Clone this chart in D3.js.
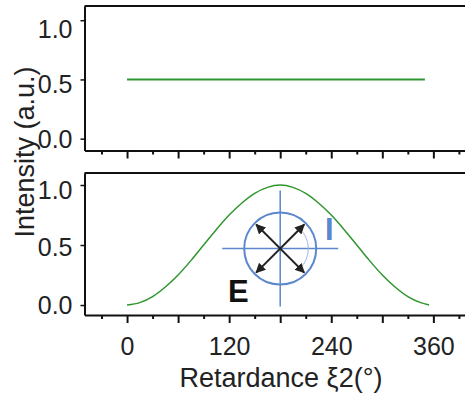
<!DOCTYPE html>
<html>
<head>
<meta charset="utf-8">
<script src="https://cdn.jsdelivr.net/npm/d3@7"></script>
<style>
  body { margin: 0; background: #fff; }
  text { font-family: "Liberation Sans", Arial, sans-serif; fill: #222; }
</style>
</head>
<body>
<script>
// data
var flatAngle = [0, 350];
var flatIntensity = [0.5, 0.5];

var retardance = [0, 15, 30, 45, 60, 75, 90, 105, 120, 135, 150, 165, 180,
                  195, 210, 225, 240, 255, 270, 285, 300, 315, 330, 345, 355];
var intensity = [0.00, 0.02, 0.07, 0.15, 0.25, 0.37, 0.50, 0.63, 0.75, 0.85, 0.93, 0.98, 1.00,
                 0.98, 0.93, 0.85, 0.75, 0.63, 0.50, 0.37, 0.25, 0.15, 0.07, 0.02, 0.00];

var xTickLabels = [0, 120, 240, 360];
var yTickLabels = [0.0, 0.5, 1.0];

var width = 465, height = 400;

var svg = d3.select("body")
  .append("svg")
    .attr("width", width)
    .attr("height", height);

// shared x scale (plot runs off the right edge of the picture)
var x = d3.scaleLinear()
  .domain([-50, 400])
  .range([84.5, 467.4]);

// two stacked panels
var yTop = d3.scaleLinear().domain([-0.1, 1.12]).range([150.5, 6]);
var yBot = d3.scaleLinear().domain([-0.083, 1.1]).range([315, 173]);

var green = "#2e962e";
var blue = "#5b87cc";

// in the original the y labels sit a little below their ticks near the top
function drawPanel(y, showLabels, labelShift) {
  var g = svg.append("g");

  // top border of the frame
  g.append("line")
    .attr("x1", x(-50)).attr("x2", x(400))
    .attr("y1", y.range()[1]).attr("y2", y.range()[1])
    .attr("stroke", "#111").attr("stroke-width", 2);

  // minor x ticks
  g.append("g")
    .attr("transform", "translate(0," + y.range()[0] + ")")
    .call(d3.axisBottom(x).tickValues(d3.range(-30, 400, 60)).tickSize(4).tickFormat(""))
    .call(function(a) { a.select(".domain").remove(); })
    .selectAll("line").attr("stroke", "#111").attr("stroke-width", 2);

  // major x ticks + axis line
  var xa = g.append("g")
    .attr("transform", "translate(0," + y.range()[0] + ")")
    .call(d3.axisBottom(x)
      .tickValues(d3.range(0, 400, 60))
      .tickSizeInner(8).tickSizeOuter(0).tickPadding(14)
      .tickFormat(function(d) { return (showLabels && xTickLabels.indexOf(d) >= 0) ? d : ""; }));
  xa.select(".domain").attr("stroke", "#111").attr("stroke-width", 2);
  xa.selectAll("line").attr("stroke", "#111").attr("stroke-width", 2);
  xa.selectAll("text").style("font-size", "25px").attr("fill", "#222");

  // y axis
  var ya = g.append("g")
    .attr("transform", "translate(" + x(-50) + ",0)")
    .call(d3.axisLeft(y).tickValues(yTickLabels).tickSizeInner(4).tickSizeOuter(0).tickPadding(8)
      .tickFormat(d3.format(".1f")));
  ya.select(".domain").attr("stroke", "#111").attr("stroke-width", 2);
  ya.selectAll("line").attr("stroke", "#111").attr("stroke-width", 1.5);
  ya.selectAll("text").style("font-size", "25px").attr("fill", "#222")
    .attr("y", function(d) { return labelShift(d); });
}

drawPanel(yTop, false, d3.scaleLinear().domain([0, 1]).range([1, 9]));
drawPanel(yBot, true, d3.scaleLinear().domain([0, 1]).range([0, 5]));

// top panel: constant intensity
svg.append("path")
  .datum(d3.zip(flatAngle, flatIntensity))
  .attr("fill", "none")
  .attr("stroke", green)
  .attr("stroke-width", 2)
  .attr("d", d3.line()
    .x(function(d) { return x(d[0]) })
    .y(function(d) { return yTop(d[1]) }));

// bottom panel: intensity vs retardance
svg.append("path")
  .datum(d3.zip(retardance, intensity))
  .attr("fill", "none")
  .attr("stroke", green)
  .attr("stroke-width", 1.5)
  .attr("d", d3.line()
    .curve(d3.curveMonotoneX)
    .x(function(d) { return x(d[0]) })
    .y(function(d) { return yBot(d[1]) }));

// inset: polarisation sketch, placed in data coordinates of the bottom panel
var cx = x(180), cy = yBot(0.47);
var rad = 36, cross = 58, arm = 34;

var defs = svg.append("defs");
defs.append("marker")
  .attr("id", "head")
  .attr("viewBox", "0 0 10 10")
  .attr("refX", 9).attr("refY", 5)
  .attr("markerWidth", 5).attr("markerHeight", 5)
  .attr("orient", "auto-start-reverse")
  .append("path").attr("d", "M0,0L10,5L0,10Z").attr("fill", "#222");

var inset = svg.append("g").attr("transform", "translate(" + cx + "," + cy + ")");
inset.append("circle").attr("r", rad)
  .attr("fill", "none").attr("stroke", blue).attr("stroke-width", 2);
inset.append("line").attr("x1", -cross).attr("x2", cross)
  .attr("stroke", blue).attr("stroke-width", 1.5);
inset.append("line").attr("y1", -cross).attr("y2", cross)
  .attr("stroke", blue).attr("stroke-width", 1.5);

// small angle arc on the right
inset.append("path")
  .attr("d", d3.arc().innerRadius(28).outerRadius(28).startAngle(Math.PI * 0.3).endAngle(Math.PI * 0.72)())
  .attr("fill", "none").attr("stroke", "#9db8e4").attr("stroke-width", 1)
  .attr("stroke-dasharray", "2,1.5");

// the two double-headed E arrows
[45, -45].forEach(function(a) {
  var r = a * Math.PI / 180;
  inset.append("line")
    .attr("x1", -arm * Math.cos(r)).attr("y1", -arm * Math.sin(r))
    .attr("x2", arm * Math.cos(r)).attr("y2", arm * Math.sin(r))
    .attr("stroke", "#222").attr("stroke-width", 2)
    .attr("marker-start", "url(#head)")
    .attr("marker-end", "url(#head)");
});

svg.append("text")
  .attr("x", cx + 49).attr("y", cy - 9)
  .attr("text-anchor", "middle")
  .style("font-size", "31px").style("font-weight", "bold")
  .style("fill", blue)
  .text("I");

svg.append("text")
  .attr("x", 228).attr("y", 302)
  .style("font-size", "31px").style("font-weight", "bold")
  .style("fill", "#111")
  .text("E");

// axis titles
svg.append("text")
  .attr("transform", "rotate(-90)")
  .attr("x", -152).attr("y", 34)
  .attr("text-anchor", "middle")
  .style("font-size", "27px")
  .text("Intensity (a.u.)");

svg.append("text")
  .attr("x", 281).attr("y", 387)
  .attr("text-anchor", "middle")
  .style("font-size", "27px")
  .text("Retardance ξ2(°)");
</script>
</body>
</html>
